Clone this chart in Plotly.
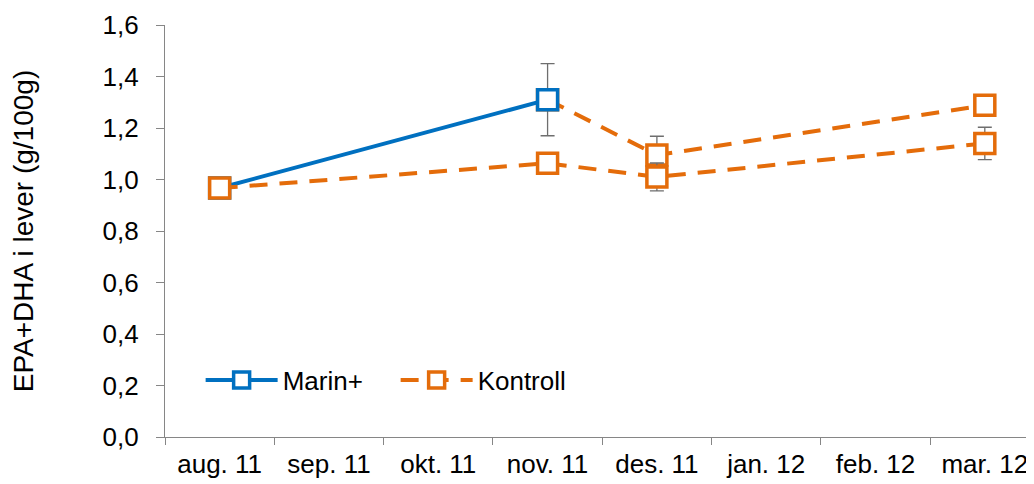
import plotly.graph_objects as go

categories = ["aug. 11", "sep. 11", "okt. 11", "nov. 11", "des. 11", "jan. 12", "feb. 12", "mar. 12"]

# Marin+ (blue, solid)
marin_x = ["aug. 11", "nov. 11"]
marin_y = [0.967, 1.31]
marin_err = [0.0, 0.14]

# Marin+ group after switch (orange, dashed)
marin2_x = ["nov. 11", "des. 11", "mar. 12"]
marin2_y = [1.31, 1.095, 1.288]
marin2_err = [0.0, 0.073, 0.025]

# Kontroll (orange, dashed)
kontroll_x = ["aug. 11", "nov. 11", "des. 11", "mar. 12"]
kontroll_y = [0.967, 1.063, 1.01, 1.14]
kontroll_err = [0.0, 0.0, 0.054, 0.063]

yticks = [0, 0.2, 0.4, 0.6, 0.8, 1.0, 1.2, 1.4, 1.6]

BLUE = "#0070C0"
ORANGE = "#E46C0A"
ERR = "#6e6e6e"
DASH = "18px,12px"
FS = 26
MS = 20

fig = go.Figure()

fig.add_trace(go.Scatter(
    x=marin2_x, y=marin2_y, mode="lines+markers", showlegend=False,
    line=dict(color=ORANGE, width=4, dash=DASH),
    marker=dict(symbol="square", size=MS, color="white", line=dict(color=ORANGE, width=3.5)),
    error_y=dict(type="data", array=marin2_err, color=ERR, thickness=1.3, width=7),
))

fig.add_trace(go.Scatter(
    x=marin_x, y=marin_y, mode="lines+markers", name="Marin+",
    line=dict(color=BLUE, width=4),
    marker=dict(symbol="square", size=MS, color="white", line=dict(color=BLUE, width=3.5)),
    error_y=dict(type="data", array=marin_err, color=ERR, thickness=1.3, width=7),
))

fig.add_trace(go.Scatter(
    x=kontroll_x, y=kontroll_y, mode="lines+markers", name="Kontroll",
    line=dict(color=ORANGE, width=4, dash=DASH),
    marker=dict(symbol="square", size=MS, color="white", line=dict(color=ORANGE, width=3.5)),
    error_y=dict(type="data", array=kontroll_err, color=ERR, thickness=1.3, width=7),
))

fig.update_layout(
    width=1026, height=476,
    margin=dict(l=157, r=0, t=17, b=47, autoexpand=False),
    paper_bgcolor="white", plot_bgcolor="white",
    font=dict(family="Liberation Sans, Arial, sans-serif", size=FS, color="#000000"),
    separators=", ",
    legend=dict(orientation="h", x=0.041, y=0.138, xanchor="left", yanchor="middle",
                font=dict(size=FS), bgcolor="rgba(0,0,0,0)", itemwidth=72,
                entrywidth=108),
    showlegend=True,
)

fig.update_xaxes(
    type="category", categoryorder="array", categoryarray=categories,
    tickvals=categories, ticktext=categories,
    range=[-0.5, 7.45], tickson="boundaries", automargin=False,
    showline=True, linecolor="#868686", linewidth=1.3,
    ticks="outside", ticklen=7, tickcolor="#868686", tickwidth=1.3,
    showgrid=False, zeroline=False, tickfont=dict(size=FS), ticklabelstandoff=4,
)

fig.update_yaxes(
    range=[0, 1.6], tickvals=yticks, tickformat=".1f", automargin=False,
    showline=True, linecolor="#868686", linewidth=1.3,
    ticks="outside", ticklen=8, tickcolor="#868686", tickwidth=1.3,
    showgrid=False, zeroline=False, tickfont=dict(size=FS), ticklabelstandoff=12,
    title=dict(text="EPA+DHA i lever (g/100g)", font=dict(size=28), standoff=62),
)

fig.write_html("out.html")
